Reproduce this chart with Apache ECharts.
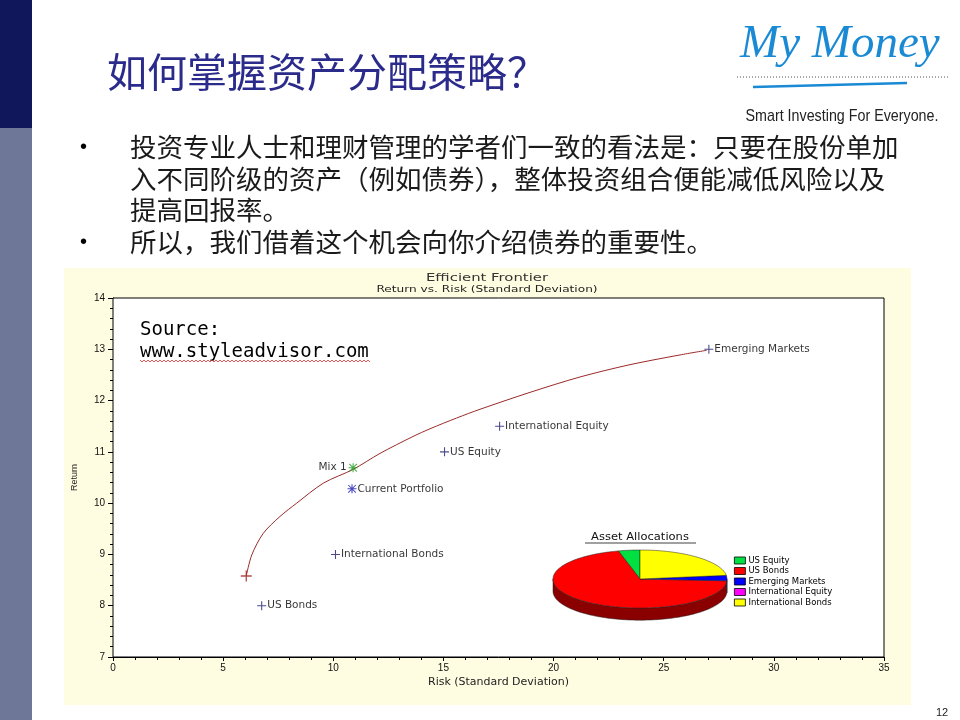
<!DOCTYPE html>
<html>
<head>
<meta charset="utf-8">
<script src="https://cdn.jsdelivr.net/npm/echarts@6/dist/echarts.min.js"></script>
<style>
html,body{margin:0;padding:0;background:#fff}
#chart{width:960px;height:720px}
</style>
</head>
<body>
<div id="chart"></div>
<script>
// 资产类别 风险/回报
var assetNames = ['US Bonds', 'International Bonds', 'US Equity', 'International Equity', 'Emerging Markets'];
var assetRisk = [6.75, 10.1, 15.05, 17.55, 27.05];
var assetReturn = [8.0, 9.0, 11.0, 11.5, 13.0];

var mixName = 'Mix 1';
var mixPoint = [10.9, 10.69];
var currentName = 'Current Portfolio';
var currentPoint = [10.85, 10.28];

// 有效边界
var frontierRisk = [6.05, 6.3, 6.82, 7.58, 8.34, 9.55, 10.91, 12.12, 13.62, 14.39, 15.6, 16.66, 18.93, 21.2, 23.47, 25.74, 26.95];
var frontierReturn = [8.58, 8.99, 9.41, 9.74, 10.0, 10.39, 10.66, 10.97, 11.3, 11.45, 11.66, 11.83, 12.16, 12.46, 12.7, 12.89, 12.98];

// 坐标轴刻度
var xRange = [0, 35, 5];
var yRange = [7, 14, 1];

// 资产配置饼图
var pieNames = ['US Equity', 'US Bonds', 'Emerging Markets', 'International Equity', 'International Bonds'];
var pieShares = [4, 70, 3, 0, 23];
var pieColors = ['#00E040', '#FF0000', '#0000FF', '#FF00FF', '#FFFF00'];
var pieSideColors = ['#007a20', '#8a0000', '#00008a', '#8a008a', '#9a9a00'];

var plusPath = 'path://M4.4,0H5.6V10H4.4Z M0,4.4H10V5.6H0Z';
var starPath = 'path://M4.4,0H5.6V10H4.4Z M0,4.4H10V5.6H0Z M1.2,0.4L9.6,8.8L8.8,9.6L0.4,1.2Z M8.8,0.4L9.6,1.2L1.2,9.6L0.4,8.8Z';

var pieDepth = 0.42;

var makeSlice = function (idx) {
    return function (params, api) {
        var f0 = api.value(0), f1 = api.value(1);
        if (!(f1 > f0)) return;
        var t0 = Math.PI / 2 + 2 * Math.PI * f0;
        var t1 = Math.PI / 2 + 2 * Math.PI * f1;
        var steps = Math.max(2, Math.ceil((t1 - t0) / 0.03));
        var top = [api.coord([0, 0])];
        for (var k = 0; k <= steps; k++) {
            var t = t0 + (t1 - t0) * k / steps;
            top.push(api.coord([Math.cos(t), Math.sin(t)]));
        }
        var children = [];
        // 侧面 (前半部分可见)
        var lo = Math.max(t0, Math.PI), hi = Math.min(t1, 2 * Math.PI);
        if (hi > lo) {
            var n = Math.max(2, Math.ceil((hi - lo) / 0.03));
            var up = [], down = [];
            for (var j = 0; j <= n; j++) {
                var s = lo + (hi - lo) * j / n;
                up.push(api.coord([Math.cos(s), Math.sin(s)]));
                down.unshift(api.coord([Math.cos(s), Math.sin(s) - pieDepth]));
            }
            children.push({
                type: 'polygon',
                shape: {points: up.concat(down)},
                style: {fill: pieSideColors[idx], stroke: '#222', lineWidth: 0.5}
            });
        }
        children.push({
            type: 'polygon',
            shape: {points: top},
            style: {fill: pieColors[idx], stroke: '#222', lineWidth: 0.5}
        });
        return {type: 'group', children: children};
    };
};

var pieSeries = [];
var total = pieShares.reduce(function (a, b) { return a + b }, 0);
var acc = 0;
pieNames.forEach(function (name, i) {
    var start = acc / total;
    acc += pieShares[i];
    pieSeries.push({
        name: name,
        type: 'custom',
        xAxisIndex: 1,
        yAxisIndex: 1,
        silent: true,
        z: 5,
        itemStyle: {color: pieColors[i]},
        renderItem: makeSlice(i),
        data: [[start, acc / total]]
    });
});

var assetData = assetNames.map(function (n, i) {
    return {name: n, value: [assetRisk[i], assetReturn[i]]};
});

// 拼写检查的红色波浪线
var wavy = [];
for (var wx = 140; wx <= 370; wx += 2) {
    wavy.push([wx, (wx / 2) % 2 === 0 ? 360 : 362]);
}

var txt = function (x, y, text, font, fill, align, sx) {
    return {
        type: 'text', x: x, y: y, z: 20, scaleX: sx || 1,
        style: {text: text, font: font, fill: fill, align: align || 'left', verticalAlign: 'middle'}
    };
};

var cjk = '"Noto Sans CJK SC"';
var lbl = {fontSize: 10.5, color: '#000', fontFamily: 'DejaVu Sans'};

var option = {
    backgroundColor: '#fff',
    animation: false,
    grid: [
        {left: 113, top: 298, width: 771, height: 359, show: true, backgroundColor: '#fff', borderColor: '#000', borderWidth: 1, z: 1},
        {left: 553, top: 550, width: 174, height: 58, show: false}
    ],
    xAxis: [
        {
            type: 'value', min: xRange[0], max: xRange[1], interval: xRange[2],
            name: 'Risk (Standard Deviation)', nameLocation: 'middle', nameGap: 20,
            nameTextStyle: {fontSize: 11, color: '#222', fontFamily: 'DejaVu Sans'},
            axisLine: {lineStyle: {color: '#000'}},
            axisTick: {show: true, length: 4, lineStyle: {color: '#000'}},
            minorTick: {show: true, splitNumber: 5, length: 3, lineStyle: {color: '#000'}},
            axisLabel: {fontSize: 10, color: '#111', margin: 6, fontFamily: 'Liberation Sans'},
            splitLine: {show: false}
        },
        {gridIndex: 1, type: 'value', min: -1, max: 1, show: false}
    ],
    yAxis: [
        {
            type: 'value', min: yRange[0], max: yRange[1], interval: yRange[2],
            name: 'Return', nameLocation: 'middle', nameGap: 34,
            nameTextStyle: {fontSize: 9, color: '#222', fontFamily: 'Liberation Sans'},
            axisLine: {show: true, lineStyle: {color: '#000'}},
            axisTick: {show: true, length: 5, lineStyle: {color: '#000'}},
            minorTick: {show: true, splitNumber: 5, length: 3, lineStyle: {color: '#000'}},
            axisLabel: {fontSize: 10, color: '#111', margin: 8, fontFamily: 'Liberation Sans'},
            splitLine: {show: false}
        },
        {gridIndex: 1, type: 'value', min: -1, max: 1, show: false}
    ],
    legend: {
        data: pieNames,
        orient: 'vertical',
        left: 734, top: 556,
        padding: 0,
        itemWidth: 11, itemHeight: 7, itemGap: 1.5,
        icon: 'rect',
        selectedMode: false,
        itemStyle: {borderColor: '#000', borderWidth: 0.8},
        textStyle: {fontSize: 8.5, color: '#000', fontFamily: 'DejaVu Sans', padding: [0, 0, 0, -2]}
    },
    series: [
        {
            name: 'frontier',
            type: 'line',
            smooth: 0.3,
            symbol: 'none',
            lineStyle: {color: '#9B2A2A', width: 1},
            data: frontierRisk.map(function (x, i) { return [x, frontierReturn[i]] }),
            z: 3
        },
        {
            name: 'frontierStart',
            type: 'scatter',
            symbol: plusPath, symbolSize: 11,
            itemStyle: {color: '#A02020'},
            data: [[frontierRisk[0], frontierReturn[0]]],
            z: 4
        },
        {
            name: 'assets',
            type: 'scatter',
            symbol: plusPath, symbolSize: 9,
            itemStyle: {color: '#1E1E6E'},
            label: Object.assign({show: true, position: 'right', distance: 1, formatter: '{b}'}, lbl),
            data: assetData,
            z: 4
        },
        {
            name: 'mix',
            type: 'scatter',
            symbol: starPath, symbolSize: 9,
            itemStyle: {color: '#1A9A1A'},
            label: Object.assign({show: true, position: 'left', distance: 2, formatter: '{b}'}, lbl),
            data: [{name: mixName, value: mixPoint}],
            z: 4
        },
        {
            name: 'current',
            type: 'scatter',
            symbol: starPath, symbolSize: 9,
            itemStyle: {color: '#1A1AB0'},
            label: Object.assign({show: true, position: 'right', distance: 1, formatter: '{b}'}, lbl),
            data: [{name: currentName, value: currentPoint}],
            z: 4
        }
    ].concat(pieSeries),
    graphic: [
        {type: 'rect', z: -10, shape: {x: 0, y: 0, width: 32, height: 128}, style: {fill: '#10175B'}},
        {type: 'rect', z: -10, shape: {x: 0, y: 128, width: 32, height: 592}, style: {fill: '#6F7799'}},
        {type: 'rect', z: -10, shape: {x: 64, y: 268, width: 847, height: 437}, style: {fill: '#FFFDE1'}},
        txt(107, 72, '如何掌握资产分配策略？', '40px ' + cjk, '#2B2B8C'),
        txt(80, 147, '•', '20px "Liberation Sans"', '#000'),
        txt(130, 147, '投资专业人士和理财管理的学者们一致的看法是：只要在股份单加', '26.5px ' + cjk, '#1a1a1a'),
        txt(130, 179, '入不同阶级的资产（例如债券），整体投资组合便能减低风险以及', '26.5px ' + cjk, '#1a1a1a'),
        txt(130, 210, '提高回报率。', '26.5px ' + cjk, '#1a1a1a'),
        txt(80, 242, '•', '20px "Liberation Sans"', '#000'),
        txt(130, 242, '所以，我们借着这个机会向你介绍债券的重要性。', '26.5px ' + cjk, '#1a1a1a'),
        // logo
        txt(740, 45, 'My Money', 'italic 47px "Liberation Serif"', '#1A8AD4'),
        {type: 'line', shape: {x1: 737, y1: 77, x2: 948, y2: 77}, style: {stroke: '#555', lineWidth: 1, lineDash: [1, 2]}},
        {type: 'line', shape: {x1: 753, y1: 87, x2: 907, y2: 83}, style: {stroke: '#1A8AD4', lineWidth: 2.5}},
        txt(842, 116, 'Smart Investing For Everyone.', '17px "Liberation Sans"', '#222', 'center', 0.84),
        // 图表标题
        txt(487, 278, 'Efficient Frontier', '11px "DejaVu Sans"', '#333', 'center', 1.35),
        txt(487, 290, 'Return vs. Risk (Standard Deviation)', '9px "DejaVu Sans"', '#222', 'center', 1.35),
        txt(140, 330, 'Source:', '19px "DejaVu Sans Mono"', '#000'),
        txt(140, 352, 'www.styleadvisor.com', '19px "DejaVu Sans Mono"', '#000'),
        {type: 'polyline', z: 20, shape: {points: wavy}, style: {stroke: '#E03030', lineWidth: 0.8, fill: null}},
        txt(640, 537, 'Asset Allocations', '10px "DejaVu Sans"', '#111', 'center', 1.15),
        {type: 'line', z: 20, shape: {x1: 585, y1: 543, x2: 696, y2: 543}, style: {stroke: '#111', lineWidth: 0.8}},
        txt(942, 713, '12', '11px "Liberation Sans"', '#222', 'center')
    ]
};

var chart = echarts.init(document.getElementById('chart'));
chart.setOption(option);
</script>
</body>
</html>
